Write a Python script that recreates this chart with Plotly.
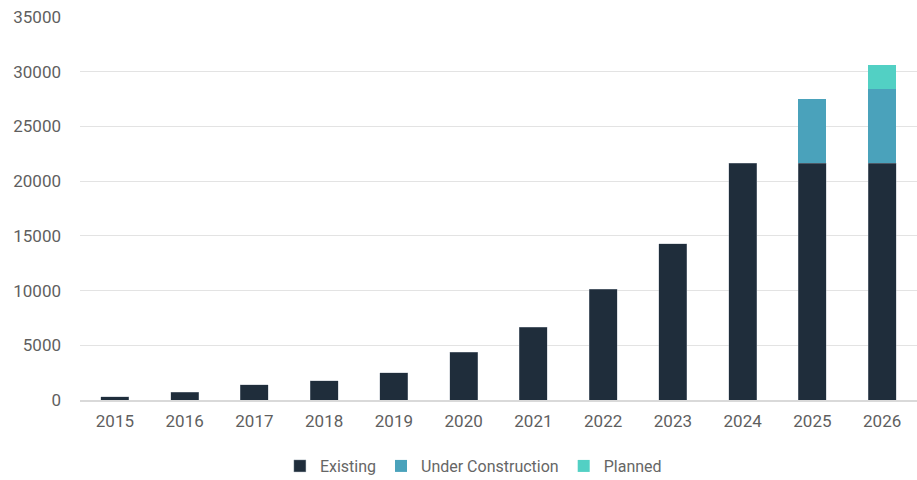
import plotly.graph_objects as go

years = ["2015", "2016", "2017", "2018", "2019", "2020", "2021", "2022", "2023", "2024", "2025", "2026"]
existing = [300, 700, 1400, 1750, 2500, 4350, 6650, 10100, 14300, 21650, 21650, 21650]
under_construction = [0, 0, 0, 0, 0, 0, 0, 0, 0, 0, 5900, 6750]
planned = [0, 0, 0, 0, 0, 0, 0, 0, 0, 0, 0, 2200]

font_family = "Roboto, 'Open Sans', sans-serif"
tick_color = "#5f5f5f"

fig = go.Figure()
fig.add_trace(go.Bar(x=years, y=existing, name="Existing",
                     marker=dict(color="#1f2d3b", line=dict(color="rgba(160,170,180,0.6)", width=0.6))))
fig.add_trace(go.Bar(x=years, y=under_construction, name="Under Construction",
                     marker=dict(color="#4aa2bb", line=dict(width=0))))
fig.add_trace(go.Bar(x=years, y=planned, name="Planned",
                     marker=dict(color="#52d0c4", line=dict(width=0))))

fig.update_layout(
    barmode="stack",
    bargap=0.6,
    width=917, height=480,
    margin=dict(l=80, r=0, t=17, b=80, autoexpand=False),
    paper_bgcolor="white",
    plot_bgcolor="white",
    font=dict(family=font_family, color=tick_color, size=17),
    legend=dict(orientation="h", x=0.47, xanchor="center", y=-0.128, yanchor="top",
                font=dict(size=16, color="#666666"), itemwidth=30, tracegroupgap=0,
                traceorder="normal"),
    xaxis=dict(showgrid=False, showline=True, linecolor="#d9d9d9", linewidth=1.5,
               automargin=False,
               ticks="", ticklabelstandoff=5, tickfont=dict(size=17, color=tick_color)),
    yaxis=dict(range=[0, 35000], dtick=5000, showgrid=True, gridcolor="#e3e3e3", gridwidth=1,
               automargin=False,
               zeroline=False, ticks="", tickformat="d", ticklabelstandoff=18,
               tickfont=dict(size=17, color=tick_color)),
)

fig.write_html("out.html")
